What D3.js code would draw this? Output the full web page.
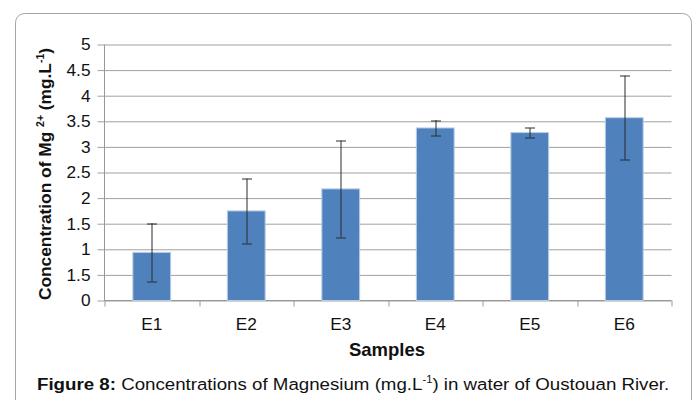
<!DOCTYPE html>
<html>
<head>
<meta charset="utf-8">
<script src="https://cdn.jsdelivr.net/npm/d3@7"></script>
<style>
  body { margin: 0; background: #fff; }
  svg { display: block; font-family: Arial, "Liberation Sans", sans-serif; }
</style>
</head>
<body>
<svg id="chart" width="696" height="400"></svg>
<script>
// data
const samples = ['E1', 'E2', 'E3', 'E4', 'E5', 'E6']
const concentration = [0.94, 1.75, 2.18, 3.37, 3.28, 3.57]
const errors = [0.57, 0.63, 0.94, 0.155, 0.09, 0.82]
const yTicks = [0, 0.5, 1, 1.5, 2, 2.5, 3, 3.5, 4, 4.5, 5]
// the source figure labels 0.5 as "1.5"
const yTickLabels = ['0', '1.5', '1', '1.5', '2', '2.5', '3', '3.5', '4', '4.5', '5']

const svg = d3.select('#chart')
const margin = { top: 44.5, left: 104.5, right: 24.5, bottom: 99.5 }
const width = 696 - margin.left - margin.right
const height = 400 - margin.top - margin.bottom
const stretch = 1.08 // source text is slightly wide

// outer frame
svg.append('rect')
  .attr('x', 15.5).attr('y', 13.5)
  .attr('width', 676).attr('height', 420)
  .attr('rx', 9)
  .attr('fill', 'none')
  .attr('stroke', '#a6a6a6')

const g = svg.append('g').attr('transform', `translate(${margin.left},${margin.top})`)

const x = d3.scaleBand()
  .domain(samples)
  .range([0, width])
  .paddingInner(0.6)
  .paddingOuter(0.3)

const y = d3.scaleLinear().domain([0, 5]).range([height, 0])

// gridlines + y tick marks
g.append('g')
  .attr('transform', 'translate(-7,0)')
  .call(d3.axisLeft(y).tickValues(yTicks).tickSize(-width - 7).tickFormat(''))
  .call(a => a.select('.domain').remove())
  .call(a => a.selectAll('line').attr('stroke', '#a0a0a0'))

// y tick labels
g.selectAll('.ylab')
  .data(yTicks)
  .join('text')
  .attr('class', 'ylab')
  .attr('transform', d => `translate(-14,${y(d) + 5.8}) scale(${stretch},1)`)
  .attr('text-anchor', 'end')
  .attr('font-size', 16)
  .attr('fill', '#111')
  .text((d, i) => yTickLabels[i])

// y axis line
g.append('line')
  .attr('x1', 0).attr('x2', 0).attr('y1', 0).attr('y2', height)
  .attr('stroke', '#999')

// x axis with boundary ticks
const xAxis = g.append('g').attr('transform', `translate(0,${height})`)
xAxis.append('line').attr('x1', 0).attr('x2', width).attr('stroke', '#999')
xAxis.selectAll('.bt')
  .data(d3.range(samples.length + 1))
  .join('line')
  .attr('x1', i => Math.round(i * x.step()) + 0.5)
  .attr('x2', i => Math.round(i * x.step()) + 0.5)
  .attr('y1', 0).attr('y2', 6)
  .attr('stroke', '#999')
xAxis.selectAll('text')
  .data(samples)
  .join('text')
  .attr('transform', d => `translate(${x(d) + x.bandwidth() / 2},29.5) scale(${stretch},1)`)
  .attr('text-anchor', 'middle')
  .attr('font-size', 16)
  .attr('fill', '#111')
  .text(d => d)

// bars
g.selectAll('.bar')
  .data(samples)
  .join('rect')
  .attr('class', 'bar')
  .attr('x', d => x(d))
  .attr('width', x.bandwidth())
  .attr('y', (d, i) => y(concentration[i]))
  .attr('height', (d, i) => height - y(concentration[i]))
  .attr('fill', '#4f81bd')
  .attr('stroke', '#b9cde5')
  .attr('stroke-width', 1)

// error bars
const eb = g.selectAll('.err')
  .data(samples)
  .join('g')
  .attr('class', 'err')
  .attr('transform', d => `translate(${Math.round(x(d) + x.bandwidth() / 2) + 0.5},0)`)
eb.append('line')
  .attr('y1', (d, i) => y(concentration[i] + errors[i]))
  .attr('y2', (d, i) => y(concentration[i] - errors[i]))
  .attr('stroke', '#2a2a2a')
eb.append('line')
  .attr('x1', -5).attr('x2', 5)
  .attr('y1', (d, i) => Math.round(y(concentration[i] + errors[i])) + 0.5)
  .attr('y2', (d, i) => Math.round(y(concentration[i] + errors[i])) + 0.5)
  .attr('stroke', '#2a2a2a')
eb.append('line')
  .attr('x1', -5).attr('x2', 5)
  .attr('y1', (d, i) => Math.round(y(concentration[i] - errors[i])) + 0.5)
  .attr('y2', (d, i) => Math.round(y(concentration[i] - errors[i])) + 0.5)
  .attr('stroke', '#2a2a2a')

// axis titles
svg.append('text')
  .attr('x', 387)
  .attr('y', 355.5)
  .attr('text-anchor', 'middle')
  .attr('font-size', 18.5)
  .attr('font-weight', 'bold')
  .attr('fill', '#111')
  .text('Samples')

const yt = svg.append('text')
  .attr('transform', `translate(50.5,174) rotate(-90) scale(1.05,1)`)
  .attr('text-anchor', 'middle')
  .attr('font-size', 16.5)
  .attr('font-weight', 'bold')
  .attr('fill', '#111')
yt.append('tspan').text('Concentration of Mg ')
yt.append('tspan').attr('font-size', 10).attr('dy', -7).text('2+')
yt.append('tspan').attr('dy', 7).text(' (mg.L')
yt.append('tspan').attr('font-size', 10).attr('dy', -7).text('-1')
yt.append('tspan').attr('dy', 7).text(')')

// caption
const cap = svg.append('text')
  .attr('transform', 'translate(37,390) scale(1.12,1)')
  .attr('font-size', 16.7)
  .attr('fill', '#111')
cap.append('tspan').attr('font-weight', 'bold').text('Figure 8:')
cap.append('tspan').text(' Concentrations of Magnesium (mg.L')
cap.append('tspan').attr('font-size', 10).attr('dy', -7).text('-1')
cap.append('tspan').attr('dy', 7).text(') in water of Oustouan River.')
</script>
</body>
</html>
